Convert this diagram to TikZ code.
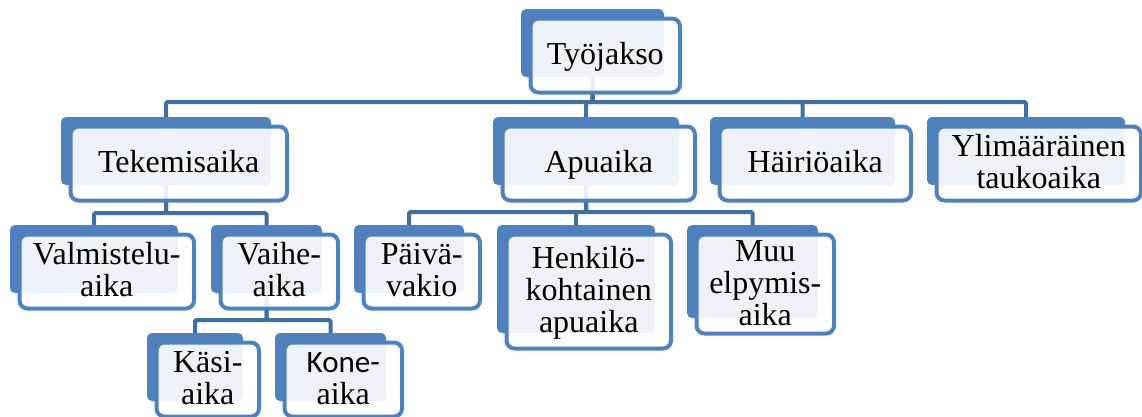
\documentclass[tikz,border=0pt]{standalone}
\usepackage{fontspec}
\setmainfont{Liberation Serif}
\newfontfamily\calib{Carlito}
\usetikzlibrary{fit}
\definecolor{acc}{HTML}{4F81BD}
\definecolor{conc}{HTML}{41709F}
\tikzset{
  backbox/.style={fill=acc, rounded corners=5pt, inner sep=0pt, outer sep=0pt},
  frontbox/.style={draw=acc, line width=4pt, fill=white, fill opacity=0.9, rounded corners=8pt, inner sep=0pt, outer sep=0pt},
  txt/.style={align=center, inner sep=0pt, font=\fontsize{32}{32}\selectfont, text=black},
  conn/.style={draw=conc, line width=4pt, rounded corners=1.5pt}
}
\newcommand\bk[5]{\node[backbox,minimum width=#4,minimum height=#5] (#1b) at (#2,#3) {};}
\newcommand\fr[2]{%
  \node[frontbox, fit={([shift={(9.5,9.5)}]#1b.north west) ([shift={(16,15.5)}]#1b.south east)}] (#1f) {};
  \node[txt] (#1t) at ([yshift=-3pt]#1f.center) {#2};}
\begin{document}
\begin{tikzpicture}[x=1pt,y=-1pt]
\useasboundingbox (0,0) rectangle (1142,416);
% back boxes
\bk{tyo}{592.5}{43}{143}{68}
\bk{tek}{166}{151}{210}{68}
\bk{apu}{586}{151}{186}{68}
\bk{hai}{802.5}{151}{185}{68}
\bk{yli}{1026}{151}{198}{68}
\bk{val}{94}{259}{168}{68}
\bk{vai}{266.5}{259}{111}{68}
\bk{pai}{409}{259}{110}{68}
\bk{hen}{576}{279}{158}{108}
\bk{muu}{752.5}{271.5}{131}{93}
\bk{kas}{195}{367}{96}{68}
\bk{kon}{330.5}{367}{111}{68}
% bus levels
\coordinate (bus1) at (0,102);
\coordinate (bus2) at (0,213);
\coordinate (bus3) at (0,212);
\coordinate (bus4) at (0,320);
% connectors
\foreach \c in {tek,apu,hai,yli}
  \draw[conn] (tyob.south) -- (tyob.south |- bus1) -| (\c b.north);
\foreach \c in {val,vai}
  \draw[conn] (tekb.south) -- (tekb.south |- bus2) -| (\c b.north);
\foreach \c in {pai,hen,muu}
  \draw[conn] (apub.south) -- (apub.south |- bus3) -| (\c b.north);
\foreach \c in {kas,kon}
  \draw[conn] (vaib.south) -- (vaib.south |- bus4) -| (\c b.north);
% front boxes with text
\fr{tyo}{\strut Työjakso}
\fr{tek}{\strut Tekemisaika}
\fr{apu}{\strut Apuaika}
\fr{hai}{\strut Häiriöaika}
\fr{yli}{\strut Ylimääräinen\\\strut taukoaika}
\fr{val}{\strut Valmistelu-\\\strut aika}
\fr{vai}{\strut Vaihe-\\\strut aika}
\fr{pai}{\strut Päivä-\\\strut vakio}
\fr{hen}{\strut Henkilö-\\\strut kohtainen\\\strut apuaika}
\fr{muu}{\strut Muu\\\strut elpymis-\\\strut aika}
\fr{kas}{\strut Käsi-\\\strut aika}
\fr{kon}{\calib\fontsize{31}{32}\selectfont\strut Kone-\\\strut aika}
\end{tikzpicture}
\end{document}
